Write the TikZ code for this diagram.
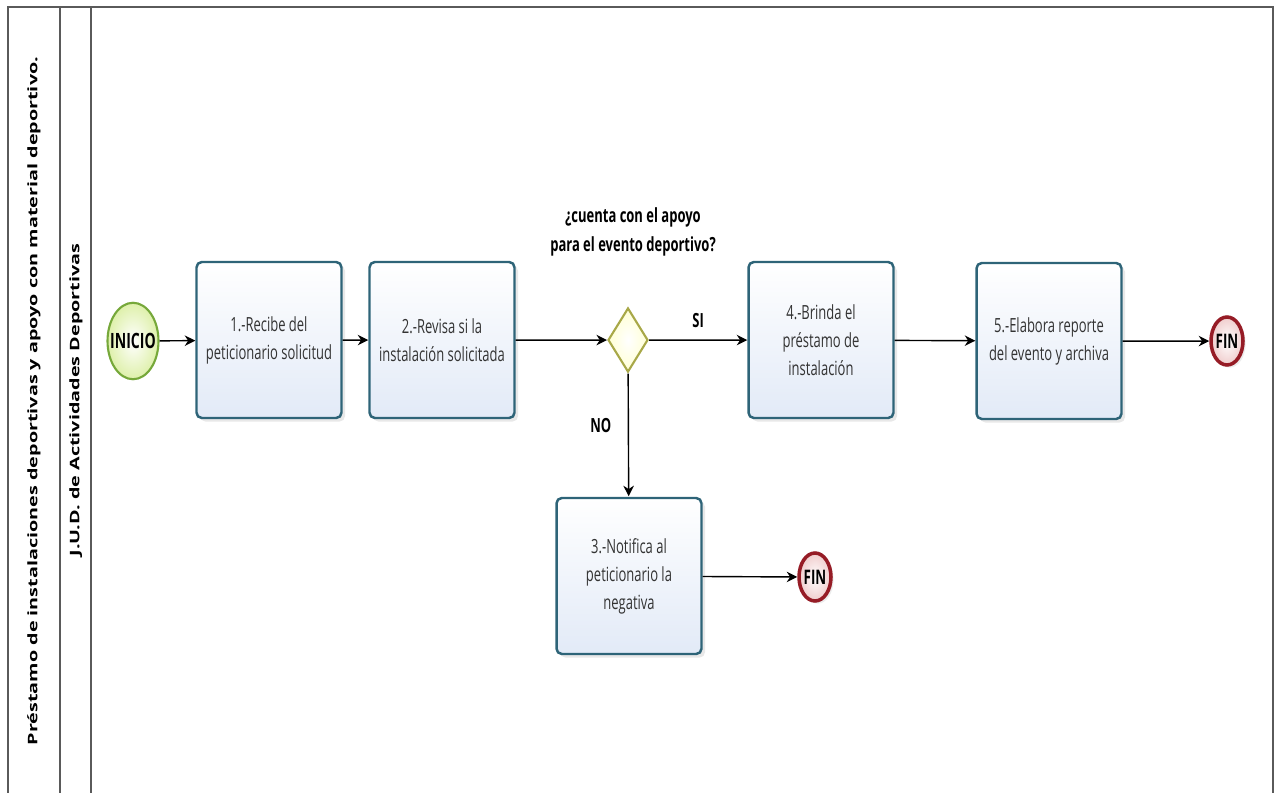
\documentclass[tikz,border=0pt]{standalone}
\usepackage{fontspec}
\setmainfont{Open Sans}
\usepackage{xcolor}
\usetikzlibrary{arrows.meta,positioning,shapes.geometric,shadows}

\definecolor{taskline}{RGB}{46,100,120}
\definecolor{taskfill}{RGB}{226,234,247}
\definecolor{startline}{RGB}{118,168,58}
\definecolor{startfill}{RGB}{222,240,170}
\definecolor{endline}{RGB}{150,28,38}
\definecolor{endfill}{RGB}{240,205,205}
\definecolor{gateline}{RGB}{168,168,72}
\definecolor{gatefill}{RGB}{255,255,212}
\definecolor{laneline}{RGB}{90,90,90}

\begin{document}
\begin{tikzpicture}[
    x=0.02cm, y=-0.0133333cm, yscale=1.5,
    every node/.append style={transform shape},
    task/.style={rectangle, draw=taskline, line width=1.4pt, rounded corners=3pt,
        top color=white, bottom color=taskfill, minimum width=2.9cm, minimum height=2.08cm,
        align=center, text=black!80, font=\fontsize{7.4}{10.6}\selectfont,
        drop shadow={shadow xshift=2pt, shadow yshift=-2pt, opacity=0.18, fill=gray}},
    startev/.style={circle, draw=startline, line width=1.2pt, inner color=white, outer color=startfill,
        minimum size=1.02cm, inner sep=0pt, font=\fontsize{8}{10}\selectfont\bfseries},
    endev/.style={circle, draw=endline, line width=2pt, inner color=white, outer color=endfill,
        minimum size=0.64cm, inner sep=0pt, font=\fontsize{7.6}{10}\selectfont\bfseries,
        drop shadow={shadow xshift=1.5pt, shadow yshift=-1.5pt, opacity=0.15, fill=gray}},
    gateway/.style={diamond, draw=gateline, line width=1.2pt, inner color=white, outer color=gatefill,
        minimum width=0.8cm, minimum height=0.86cm, inner sep=0pt},
    tag/.style={font=\fontsize{7.4}{11}\selectfont\bfseries, align=center},
    lanetext/.style={font=\fontsize{7.5}{9}\selectfont\bfseries, rotate=90},
    flow/.style={-{Stealth[length=6pt,width=6pt]}, line width=0.8pt}
]
\useasboundingbox (0,0) rectangle (1278,793);

% pool and lane
\draw[laneline, line width=0.8pt] (8,793) -- (8,7) -- (1273,7) -- (1273,793);
\draw[laneline, line width=0.8pt] (60,7) -- (60,793);
\draw[laneline, line width=0.8pt] (91,7) -- (91,793);
\node[lanetext] (pool) at (34,401) {Préstamo de instalaciones deportivas y apoyo con material deportivo.};
\node[lanetext] (lane) at (76,400) {J.U.D. de Actividades Deportivas};

% main row
\node[startev] (inicio) at (133,341) {INICIO};
\node[task] (recibe) at (269,340) {1.-Recibe del\\peticionario solicitud};
\node[task] (revisa) at (442,340) {2.-Revisa si la\\instalación solicitada};
\node[gateway] (apoyo) at (628,340) {};
\node[tag] (pregunta) at (633,232) {¿cuenta con el apoyo\\para el evento deportivo?};
\node[task] (brinda) at (821,340) {4.-Brinda el\\préstamo de\\instalación};
\node[task] (elabora) at (1049,341) {5.-Elabora reporte\\del evento y archiva};
\node[endev] (fin1) at (1227,341) {FIN};

% negative branch
\node[task] (notifica) at (629,576) {3.-Notifica al\\peticionario la\\negativa};
\node[endev] (fin2) at (815,577) {FIN};

% sequence flows
\draw[flow] (inicio) -- (recibe);
\draw[flow] (recibe) -- (revisa);
\draw[flow] (revisa) -- (apoyo);
\draw[flow] (apoyo) -- node[tag, above=1pt] {SI} (brinda);
\draw[flow] (apoyo) -- node[tag, left=6pt, pos=0.42] {NO} (notifica);
\draw[flow] (brinda) -- (elabora);
\draw[flow] (elabora) -- (fin1);
\draw[flow] (notifica) -- (fin2);

\end{tikzpicture}
\end{document}
